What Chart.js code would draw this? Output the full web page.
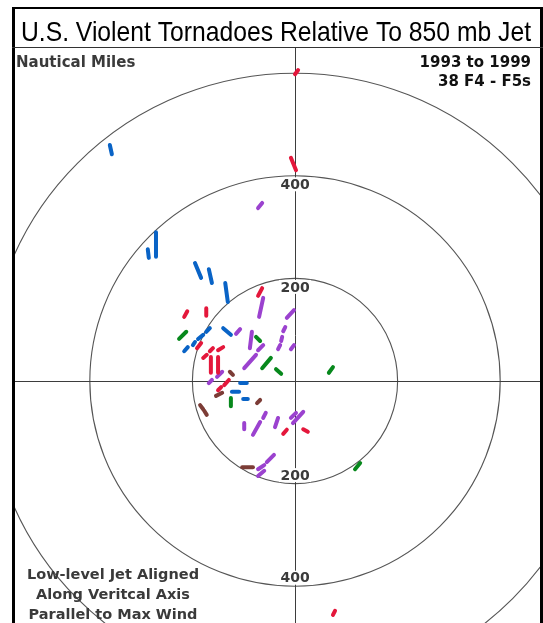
<!DOCTYPE html>
<html><head><meta charset="utf-8">
<script src="https://cdn.jsdelivr.net/npm/chart.js@4/dist/chart.umd.min.js"></script>
<style>html,body{margin:0;padding:0;background:#fff;overflow:hidden}canvas{display:block}</style>
</head><body>
<canvas id="c" width="543" height="623"></canvas>
<script>
// Range rings (nautical miles) and which ones carry labels
const ringRadii = [200, 400, 600];
const labelledRings = [200, 400];

// Tornado tracks relative to jet, [x1, y1, x2, y2] in nautical miles
const redTracks = [
  [6,606,0,598],[-8,435,2,411],[-64,181,-72,166],[-210,136,-216,125],[-173,142,-173,127],
  [-183,74,-191,64],[-160,64,-166,58],[-140,66,-150,60],[-172,51,-179,45],[-164,47,-164,16],
  [-150,47,-150,16],[-129,2,-138,-8],[-144,-12,-150,-18],[-16,-95,-23,-103],[16,-94,25,-99],
  [78,-448,74,-456]
];
const blueTracks = [
  [-361,460,-357,442],[-271,290,-271,242],[-287,257,-285,240],[-195,230,-183,201],
  [-168,218,-162,191],[-136,191,-131,154],[-166,103,-173,96],[-140,103,-125,90],
  [-179,90,-189,82],[-195,76,-199,70],[-209,66,-216,58],[-107,-4,-94,-4],
  [-123,-21,-109,-21],[-101,-35,-92,-35]
];
const purpleTracks = [
  [-64,347,-72,337],[-62,162,-70,125],[-2,138,-16,123],[-107,101,-115,92],[-19,105,-23,97],
  [-84,96,-88,64],[-25,86,-27,78],[-29,70,-33,62],[-62,70,-72,60],[-2,70,-8,62],
  [-76,51,-99,25],[-142,18,-152,8],[-162,2,-168,-4],[-57,-62,-62,-72],[16,-60,-4,-82],
  [2,-62,-8,-72],[-68,-80,-82,-105],[-33,-72,-39,-90],[-99,-82,-99,-94],[-41,-144,-55,-158],
  [-60,-164,-72,-172],[-60,-175,-72,-185]
];
const greenTracks = [
  [-212,96,-226,82],[-76,86,-68,78],[-47,45,-64,25],[-37,23,-27,14],[74,27,66,16],
  [-125,-33,-125,-49],[127,-160,117,-172]
];
const brownTracks = [
  [-127,18,-121,12],[-142,-23,-154,-29],[-68,-37,-74,-43],[-185,-47,-179,-55],
  [-177,-58,-172,-66],[-103,-168,-82,-168]
];

const groups = [
  {tracks: redTracks, color: '#e4173b'},
  {tracks: blueTracks, color: '#0963c6'},
  {tracks: purpleTracks, color: '#9b42cf'},
  {tracks: greenTracks, color: '#07881c'},
  {tracks: brownTracks, color: '#7c3c36'}
];

const datasets = [];
groups.forEach(g => g.tracks.forEach(t => datasets.push({
  data: [{x: t[0], y: t[1]}, {x: t[2], y: t[3]}],
  borderColor: g.color, borderWidth: 4, pointRadius: 0, tension: 0,
  borderCapStyle: 'round', fill: false
})));

const TXT = '#3a3a3a';
const FONT = '"DejaVu Sans", sans-serif';

const ringsPlugin = {
  id: 'rings',
  beforeDatasetsDraw(chart) {
    const {ctx, chartArea: a, scales: {x, y}} = chart;
    const cx = x.getPixelForValue(0), cy = y.getPixelForValue(0);
    ctx.save();
    ctx.beginPath(); ctx.rect(a.left, a.top, a.right - a.left, a.bottom - a.top); ctx.clip();
    ctx.strokeStyle = '#555'; ctx.lineWidth = 1.1;
    ringRadii.forEach(r => {
      const rx = x.getPixelForValue(r) - cx, ry = cy - y.getPixelForValue(r);
      ctx.beginPath(); ctx.ellipse(cx, cy, rx, ry, 0, 0, Math.PI * 2); ctx.stroke();
    });
    ctx.strokeStyle = '#3d3d3d'; ctx.lineWidth = 1;
    const ax = Math.round(cx) + 0.5, ay = Math.round(cy) + 0.5;
    ctx.beginPath(); ctx.moveTo(a.left, ay); ctx.lineTo(a.right, ay); ctx.stroke();
    ctx.beginPath(); ctx.moveTo(ax, a.top); ctx.lineTo(ax, a.bottom); ctx.stroke();
    ctx.font = 'bold 14px ' + FONT; ctx.textAlign = 'center'; ctx.textBaseline = 'middle';
    labelledRings.forEach(r => {
      [y.getPixelForValue(r) + 8.5, y.getPixelForValue(-r) - 8.5].forEach(py => {
        if (py < a.top || py > a.bottom) return;
        ctx.fillStyle = '#fff'; ctx.fillRect(cx - 16, py - 7, 32, 14);
        ctx.fillStyle = TXT; ctx.fillText(String(r), cx, py + 1);
      });
    });
    ctx.restore();
  },
  afterDraw(chart) {
    const {ctx} = chart;
    ctx.save();
    ctx.fillStyle = '#000';
    ctx.fillRect(12, 7, 3, 616);
    ctx.fillRect(540, 7, 3, 616);
    ctx.fillRect(12, 7, 531, 2);
    ctx.fillStyle = '#333';
    ctx.fillRect(12, 47, 531, 1);
    // title
    ctx.font = '28px "Liberation Sans", Arial, sans-serif';
    const title = 'U.S. Violent Tornadoes Relative To 850 mb Jet';
    const w = ctx.measureText(title).width;
    ctx.translate(276, 41); ctx.scale(510 / w, 1);
    ctx.fillStyle = '#000'; ctx.textAlign = 'center'; ctx.textBaseline = 'alphabetic';
    ctx.fillText(title, 0, 0);
    ctx.setTransform(1, 0, 0, 1, 0, 0);
    // corner notes
    ctx.font = 'bold 15px ' + FONT;
    ctx.fillStyle = TXT; ctx.textAlign = 'left';
    ctx.fillText('Nautical Miles', 16, 67);
    ctx.fillStyle = '#111'; ctx.textAlign = 'right';
    ctx.fillText('1993 to 1999', 531, 67);
    ctx.fillText('38 F4 - F5s', 531, 86);
    ctx.font = 'bold 14.5px ' + FONT;
    ctx.fillStyle = TXT; ctx.textAlign = 'center';
    ctx.fillText('Low-level Jet Aligned', 113, 579);
    ctx.fillText('Along Veritcal Axis', 113, 599);
    ctx.fillText('Parallel to Max Wind', 113, 619);
    ctx.restore();
  }
};

new Chart(document.getElementById('c'), {
  type: 'line',
  data: {datasets},
  options: {
    responsive: false, animation: false, devicePixelRatio: 1,
    layout: {padding: {left: 14, right: 3, top: 48, bottom: 0}},
    plugins: {legend: {display: false}, tooltip: {enabled: false}},
    scales: {
      x: {type: 'linear', min: -547.8, max: 477.6, display: false},
      y: {type: 'linear', min: -471.7, max: 649.1, display: false}
    }
  },
  plugins: [ringsPlugin]
});
</script>
</body></html>
